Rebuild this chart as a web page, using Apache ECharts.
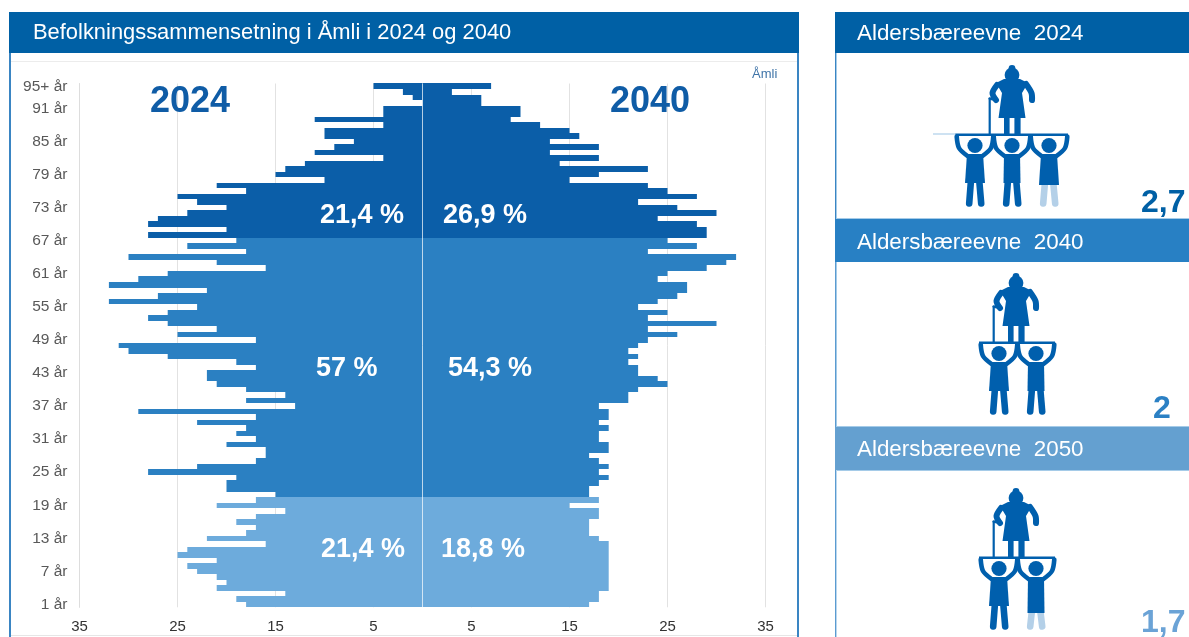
<!DOCTYPE html>
<html>
<head>
<meta charset="utf-8">
<title>Befolkningssammensetning i Åmli</title>
<script src="https://cdn.jsdelivr.net/npm/echarts@6/dist/echarts.min.js"></script>
<style>
  html, body { margin: 0; padding: 0; background: #fff; }
  #main { width: 1189px; height: 637px; }
</style>
</head>
<body>
<div id="main"></div>
<script>
// rows run from the top of the pyramid (95+) down to 1 år
var men = [5, 2, 1, 0, 4, 4, 11, 4, 10, 10, 7, 9, 11, 4, 12, 14, 15, 10, 21, 18, 25, 23, 20, 24, 27, 28, 20, 28,
  19, 24, 18, 30, 21, 16, 26, 29, 32, 22, 27, 32, 23, 26, 28, 26, 21, 25, 17, 31, 30, 26, 19, 17, 22, 22, 21, 18, 14, 18, 13, 29, 17, 23, 18, 19, 17, 20, 16, 16, 17, 23, 28, 19, 20, 20, 15,
  17, 21, 14, 17, 19, 17, 18, 22, 16, 24, 25, 21, 24, 23, 21, 20, 21, 14, 19, 18];
var women = [7, 3, 6, 6, 10, 10, 9, 12, 15, 16, 13, 18, 13, 18, 14, 23, 18, 15, 23, 25, 28, 22, 26, 30, 24, 28, 29, 29,
  25, 28, 23, 32, 31, 29, 25, 24, 27, 27, 26, 24, 22, 25, 23, 30, 23, 26, 23, 22, 21, 22, 21, 22, 22, 24, 25, 22, 21, 21, 18, 19, 19, 18, 19, 18, 18, 19, 19, 17, 18, 19, 18, 19, 18, 17, 17,
  18, 15, 18, 18, 17, 17, 17, 18, 19, 19, 19, 19, 19, 19, 19, 19, 19, 18, 18, 17];
var tickValues = [-35, -25, -15, -5, 5, 15, 25, 35];
var groupColors = ['#0B5EA8', '#2B80C2', '#6DABDC'];
var groupStart = [0, 28, 75]; // first row of 68+, 21-67 and 1-20

var ages = ['95+ år'];
for (var a = 94; a >= 1; a--) ages.push(a + ' år');

var chart = echarts.init(document.getElementById('main'));

function rowColor(i) {
  if (i >= groupStart[2]) return groupColors[2];
  if (i >= groupStart[1]) return groupColors[1];
  return groupColors[0];
}

// plain bar series leaves seams between the 5.5px rows, so snap each row to whole pixels
function renderRow(params, api) {
  var row = api.value(1);
  var from = api.coord([0, row]);
  var to = api.coord([api.value(0), row]);
  var band = api.size([0, 1])[1];
  var top = Math.round(from[1] - band / 2);
  var bottom = Math.round(from[1] + band / 2);
  return {
    type: 'rect',
    shape: {
      x: Math.min(from[0], to[0]),
      y: top,
      width: Math.abs(to[0] - from[0]),
      height: bottom - top
    },
    style: { fill: rowColor(row) }
  };
}

var ICON = '#005FAD';
var FADED = '#B4D0E8';

function box(x, y, w, h, fill) {
  return { type: 'rect', shape: { x: x, y: y, width: w, height: h }, style: { fill: fill } };
}
function label(x, y, text, size, fill, weight, align) {
  return {
    type: 'text', x: x, y: y, z: 10,
    style: {
      text: text, fill: fill, font: (weight || 'normal') + ' ' + size + 'px "Liberation Sans", Arial, sans-serif',
      textAlign: align || 'left', textVerticalAlign: 'middle'
    }
  };
}
function stroke(points, width, color) {
  return {
    type: 'polyline', shape: { points: points, smooth: 0.3 },
    style: { stroke: color || ICON, lineWidth: width, fill: 'none', lineCap: 'round', lineJoin: 'round' }
  };
}
function solid(points) {
  return { type: 'polygon', shape: { points: points }, style: { fill: ICON } };
}
function dot(x, y, r) {
  return { type: 'circle', shape: { cx: x, cy: y, r: r }, style: { fill: ICON } };
}

function elder(cx, py) {
  return {
    type: 'group', x: cx, y: py, children: [
      dot(0, -66.5, 3.4),
      dot(0, -60, 7.4),
      solid([[-8, -56], [8, -56], [16, -52], [10, -42], [13.5, -17], [-13.5, -17], [-10, -42], [-16, -52]]),
      stroke([[-15, -50], [-19.5, -42], [-16, -35]], 6),
      stroke([[14, -51], [19.5, -42], [20, -35]], 6),
      box(-8, -18, 5.6, 18, ICON),
      box(2.4, -18, 6.2, 18, ICON),
      box(-23.4, -37, 2.2, 37, ICON),
      stroke([[-22.3, -36.5], [-16, -35]], 2.6)
    ]
  };
}

function child(cx, py, dress, fadeY) {
  var hem = fadeY || 48;
  var hw = dress ? 10 : 8.5;
  var legColor = fadeY ? FADED : ICON;
  var parts = [
    stroke([[-5.8, 68.5], [-4, hem - 3]], 6.6, legColor),
    stroke([[6.2, 68.5], [4.2, hem - 3]], 6.6, legColor),
    dot(0, 10.5, 7.6),
    stroke([[-18.3, 1.5], [-16, 13], [-7.5, 21]], 4.6),
    stroke([[18.3, 1.5], [16, 13], [7.5, 21]], 4.6),
    solid([[-8, 19], [8, 19], [hw, hem], [-hw, hem]])
  ];
  return { type: 'group', x: cx, y: py, children: parts };
}

var graphics = [
  // left panel frame
  box(9, 12, 790, 41, '#0060A5'),
  box(9, 53, 2, 584, '#3A85C3'),
  box(797, 53, 2, 584, '#3A85C3'),
  box(11, 61, 786, 1, '#ECECEC'),
  box(11, 635, 786, 1, '#E6E6E6'),
  label(33, 33, 'Befolkningssammensetning i Åmli i 2024 og 2040', 21.9, '#FFFFFF'),
  label(752, 74, 'Åmli', 13, '#3F74A8'),
  label(150, 102, '2024', 36, '#0F5CA6', 'bold'),
  label(610, 102, '2040', 36, '#0F5CA6', 'bold'),
  label(320, 216, '21,4 %', 27, '#FFFFFF', 'bold'),
  label(443, 216, '26,9 %', 27, '#FFFFFF', 'bold'),
  label(316, 369, '57 %', 27, '#FFFFFF', 'bold'),
  label(448, 369, '54,3 %', 27, '#FFFFFF', 'bold'),
  label(321, 550, '21,4 %', 27, '#FFFFFF', 'bold'),
  label(441, 550, '18,8 %', 27, '#FFFFFF', 'bold'),

  // right panel
  box(835, 12, 354, 41, '#0060A5'),
  box(835, 219, 354, 43, '#2880C4'),
  box(835, 427, 354, 43, '#64A0D0'),
  box(835, 53, 1, 166, '#3A85C3'),
  box(836, 53, 1, 166, '#A5CBE8'),
  box(835, 262, 1, 165, '#5B9BD0'),
  box(836, 262, 1, 165, '#A5CBE8'),
  box(835, 470, 1, 167, '#5B9BD0'),
  box(836, 470, 1, 167, '#BBD7EE'),
  box(837, 218, 352, 1, '#A5CBE8'),
  box(837, 426, 352, 1, '#A5CBE8'),
  box(837, 470, 352, 1, '#A5CBE8'),
  label(857, 34, 'Aldersbæreevne  2024', 22.4, '#FFFFFF'),
  label(857, 243, 'Aldersbæreevne  2040', 22.4, '#FFFFFF'),
  label(857, 450, 'Aldersbæreevne  2050', 22.4, '#FFFFFF'),
  label(1141, 203, '2,7', 32, '#0060A5', 'bold'),
  label(1153, 409, '2', 32, '#2B80C4', 'bold'),
  label(1141, 623, '1,7', 32, '#6BA3D6', 'bold'),

  // 2024: three carrying one
  box(933, 133.5, 23, 1, '#9CC4E4'),
  box(955.5, 133.5, 112.5, 2.5, ICON),
  elder(1012, 135),
  child(975, 135, true),
  child(1012, 135, false),
  child(1049, 135, true, 50),

  // 2040: two carrying one
  box(979, 341.5, 76, 2.5, ICON),
  elder(1016, 343),
  child(999, 343, true),
  child(1036, 343, false),

  // 2050: just under two
  box(979, 556.5, 76, 2.5, ICON),
  elder(1016, 558),
  child(999, 558, true),
  child(1036, 558, false, 55)
];

var option = {
  animation: false,
  textStyle: { fontFamily: '"Liberation Sans", Arial, sans-serif' },
  grid: { left: 79.5, right: 423.5, top: 83.5, bottom: 29.7, containLabel: false },
  xAxis: {
    type: 'value',
    min: -35,
    max: 35,
    interval: 5,
    position: 'bottom',
    axisLine: { show: false },
    axisTick: { show: false, customValues: tickValues },
    axisLabel: {
      customValues: tickValues,
      margin: 12,
      fontSize: 15,
      color: '#333333',
      formatter: function (v) { return Math.abs(v); }
    },
    splitLine: { show: true, lineStyle: { color: '#E2E2E2', width: 1 } }
  },
  yAxis: {
    type: 'category',
    inverse: true,
    data: ages,
    axisLine: { onZero: false, lineStyle: { color: '#DDDDDD' } },
    axisTick: { show: false },
    axisLabel: {
      margin: 12,
      fontSize: 15.5,
      color: '#595959',
      interval: function (i) { return i === 0 || (94 - i) % 6 === 0; }
    }
  },
  series: [
    {
      name: '2024',
      type: 'custom',
      renderItem: renderRow,
      encode: { x: 0, y: 1 },
      data: men.map(function (v, i) { return [-v, i]; }),
      silent: true
    },
    {
      name: '2040',
      type: 'custom',
      renderItem: renderRow,
      encode: { x: 0, y: 1 },
      data: women.map(function (v, i) { return [v, i]; }),
      silent: true,
      markLine: {
        silent: true,
        symbol: 'none',
        label: { show: false },
        lineStyle: { color: 'rgba(255,255,255,0.6)', type: 'solid', width: 1 },
        data: [{ xAxis: 0 }]
      }
    }
  ],
  graphic: graphics
};
chart.setOption(option);
</script>
</body>
</html>
